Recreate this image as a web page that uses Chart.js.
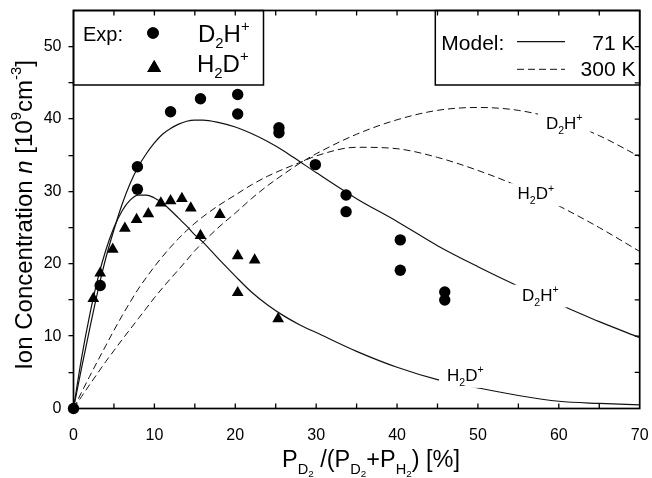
<!DOCTYPE html>
<html>
<head>
<meta charset="utf-8">
<script src="https://cdn.jsdelivr.net/npm/chart.js@4.4.1/dist/chart.umd.min.js"></script>
<style>
  html, body { margin: 0; padding: 0; background: #fff; }
  canvas { display: block; }
</style>
</head>
<body>
<canvas id="chart" width="652" height="478"></canvas>
<script>
// Measured ion densities, n in 10^9 cm^-3 versus D2 fraction in %
const expD2H_x = [0, 3.3, 7.9, 7.9, 12.0, 15.7, 20.3, 20.3, 25.4, 25.4, 29.9, 33.7, 33.7, 40.4, 40.4, 45.9, 45.9];
const expD2H_y = [0, 17.0, 33.4, 30.3, 41.0, 42.8, 43.4, 40.7, 38.8, 38.1, 33.7, 29.5, 27.2, 23.3, 19.1, 16.1, 15.0];
const expH2D_x = [2.45, 3.3, 4.85, 6.35, 7.8, 9.25, 10.8, 12.0, 13.4, 14.5, 15.7, 18.1, 20.3, 22.4, 20.3, 25.3];
const expH2D_y = [15.2, 18.7, 22.0, 24.9, 26.1, 26.9, 28.4, 28.7, 29.0, 27.7, 23.9, 26.8, 21.1, 20.5, 16.0, 12.4];

// Model curves at 71 K and 300 K
const modelX       = [0, 1, 2, 3, 4, 5, 6, 7, 8, 9, 10, 11, 12, 13, 14, 15, 16, 18, 20, 22, 24, 26, 28, 30, 35, 40, 45, 50, 55, 60, 65, 70];
const modelD2H_71  = [0, 5.6, 11.0, 16.2, 20.8, 24.7, 28.2, 31.1, 33.4, 35.2, 36.7, 37.9, 38.7, 39.3, 39.7, 39.85, 39.85, 39.5, 38.9, 38.0, 36.9, 35.6, 34.1, 32.6, 29.0, 25.85, 22.5, 19.6, 16.9, 14.4, 12.0, 9.8];
const modelH2D_71  = [0, 7.0, 12.9, 17.9, 21.9, 25.0, 27.3, 28.8, 29.5, 29.5, 29.1, 28.4, 27.4, 26.3, 25.2, 24.0, 23.0, 20.6, 18.3, 16.1, 14.3, 12.8, 11.55, 10.5, 7.9, 5.7, 4.0, 2.85, 1.8, 1.0, 0.7, 0.5];
const modelD2H_300 = [0, 1.65, 3.3, 4.9, 6.5, 8.0, 9.5, 10.95, 12.4, 13.85, 15.3, 16.65, 17.95, 19.2, 20.5, 21.8, 22.95, 25.1, 27.0, 29.0, 30.8, 32.4, 33.9, 35.2, 37.9, 39.9, 41.2, 41.6, 41.2, 39.9, 37.7, 34.8];
const modelH2D_300 = [0, 2.25, 4.45, 6.6, 8.7, 10.8, 12.8, 14.7, 16.5, 18.1, 19.6, 21.0, 22.3, 23.5, 24.6, 25.6, 26.5, 28.1, 29.5, 30.9, 32.1, 33.1, 34.0, 34.9, 36.1, 35.9, 34.7, 32.9, 30.7, 28.0, 25.0, 21.7];

// Axis tick labels (minor ticks every 5)
const xTickLabels = [0, 10, 20, 30, 40, 50, 60, 70];
const yTickLabels = [0, 10, 20, 30, 40, 50];

// Curve name tags, anchored in data units
const curveTagX = [60.67, 57.16, 57.72, 48.44];
const curveTagY = [39.5, 29.74, 15.73, 4.63];

const FONT = '"Liberation Sans", Arial, Helvetica, sans-serif';

function setFont(ctx, size, italic) {
  ctx.font = (italic ? 'italic ' : '') + size.toFixed(2) + 'px ' + FONT;
}
// parts: [text, relative size, vertical shift in em (+ down), italic]
function richWidth(ctx, parts, size) {
  let w = 0;
  for (const p of parts) { setFont(ctx, size * (p[1] || 1), p[3]); w += ctx.measureText(p[0]).width; }
  return w;
}
function drawRich(ctx, parts, x, y, size, align) {
  const w = richWidth(ctx, parts, size);
  let cx = align === 'center' ? x - w / 2 : align === 'right' ? x - w : x;
  ctx.textAlign = 'left';
  ctx.textBaseline = 'alphabetic';
  ctx.fillStyle = '#000';
  for (const p of parts) {
    setFont(ctx, size * (p[1] || 1), p[3]);
    ctx.fillText(p[0], cx, y + (p[2] || 0) * size);
    cx += ctx.measureText(p[0]).width;
  }
  return w;
}

const ION_D2H = [['D'], ['2', 0.62, 0.28], ['H'], ['+', 0.62, -0.45]];
const ION_H2D = [['H'], ['2', 0.62, 0.28], ['D'], ['+', 0.62, -0.45]];
const curveTags = [ION_D2H, ION_H2D, ION_D2H, ION_H2D];

const X_TITLE = [['P'], ['D', 0.62, 0.28], ['2', 0.42, 0.42], [' /('], ['P'], ['D', 0.62, 0.28], ['2', 0.42, 0.42],
                 ['+'], ['P'], ['H', 0.62, 0.28], ['2', 0.42, 0.42], [') [%]']];
const Y_TITLE = [['Ion Concentration '], ['n', 1, 0, true], [' [10'], ['9', 0.62, -0.45], ['cm'], ['-3', 0.62, -0.45], [']']];

const pts = (xs, ys) => xs.map((x, i) => ({ x, y: ys[i] }));
const range = (a, b, s) => { const r = []; for (let v = a; v <= b + 1e-9; v += s) r.push(v); return r; };

function modelLine(label, ys, dashed) {
  return {
    label,
    data: pts(modelX, ys),
    showLine: true,
    pointRadius: 0,
    borderColor: '#111',
    borderWidth: dashed ? 1 : 1.2,
    borderDash: dashed ? [7, 4] : [],
    cubicInterpolationMode: 'monotone',
    fill: false,
    clip: false
  };
}

// keep the plot rectangle fixed: no extra room for label overhang
function fixBox(prop, value) {
  return s => {
    s[prop] = value;
    s.paddingLeft = 0; s.paddingRight = 0; s.paddingTop = 0; s.paddingBottom = 0;
  };
}

// Boxes, frame, inward ticks and legend keys
const decorations = {
  id: 'decorations',
  beforeDatasetsDraw(chart) {
    const { ctx, chartArea: a, scales: { x, y } } = chart;
    ctx.save();

    // key boxes
    ctx.lineWidth = 1.5;
    ctx.strokeStyle = '#000';
    ctx.fillStyle = '#fff';
    const boxH = 74.5;
    ctx.fillRect(a.left, a.top, 190, boxH);
    ctx.strokeRect(a.left, a.top, 190, boxH);
    ctx.fillRect(a.right - 204.4, a.top, 204.4, boxH);
    ctx.strokeRect(a.right - 204.4, a.top, 204.4, boxH);

    // frame
    ctx.lineWidth = 1.7;
    ctx.strokeRect(a.left, a.top, a.right - a.left, a.bottom - a.top);

    // inward ticks: bottom, top, right
    ctx.lineWidth = 1.3;
    ctx.beginPath();
    for (const v of range(5, 65, 5)) {
      const px = x.getPixelForValue(v);
      ctx.moveTo(px, a.bottom); ctx.lineTo(px, a.bottom - 5);
      ctx.moveTo(px, a.top); ctx.lineTo(px, a.top + 5);
    }
    for (const v of range(5, 50, 5)) {
      const py = y.getPixelForValue(v);
      ctx.moveTo(a.right, py); ctx.lineTo(a.right - 5, py);
    }
    ctx.stroke();

    // experimental key
    setFont(ctx, 20);
    ctx.fillStyle = '#000';
    ctx.textAlign = 'left';
    ctx.textBaseline = 'alphabetic';
    ctx.fillText('Exp:', a.left + 9.5, a.top + 30);
    Chart.helpers.drawPoint(ctx, { pointStyle: 'circle', radius: 5.8, borderWidth: 0 }, a.left + 79.5, a.top + 22.5);
    ctx.fill();
    drawRich(ctx, ION_D2H, a.left + 124.5, a.top + 31.2, 24, 'left');
    ctx.fillStyle = '#000';
    Chart.helpers.drawPoint(ctx, { pointStyle: 'triangle', radius: 8, borderWidth: 0 }, a.left + 80.7, a.top + 57.5);
    ctx.fill();
    drawRich(ctx, ION_H2D, a.left + 123.5, a.top + 61.2, 24, 'left');

    // model key
    drawRich(ctx, [['Model:']], a.right - 198.4, a.top + 39.5, 21, 'left');
    drawRich(ctx, [['71 K']], a.right - 4.2, a.top + 39.5, 21, 'right');
    drawRich(ctx, [['300 K']], a.right - 4.2, a.top + 65.5, 21, 'right');
    ctx.strokeStyle = '#111';
    ctx.lineWidth = 1.2;
    ctx.beginPath();
    ctx.moveTo(a.right - 122.7, a.top + 31.2); ctx.lineTo(a.right - 74.7, a.top + 31.2);
    ctx.stroke();
    ctx.lineWidth = 1;
    ctx.setLineDash([7, 4]);
    ctx.beginPath();
    ctx.moveTo(a.right - 122.7, a.top + 58.8); ctx.lineTo(a.right - 74.7, a.top + 58.8);
    ctx.stroke();
    ctx.setLineDash([]);

    ctx.restore();
  },
  afterDatasetsDraw(chart) {
    const { ctx, scales: { x, y } } = chart;
    ctx.save();
    const size = 17;
    curveTags.forEach((parts, i) => {
      const px = x.getPixelForValue(curveTagX[i]);
      const py = y.getPixelForValue(curveTagY[i]);
      const base = py + 0.358 * size;
      const w = richWidth(ctx, parts, size);
      ctx.fillStyle = '#fff';
      ctx.fillRect(px - w / 2 - 8, base - 0.95 * size, w + 16, 1.35 * size);
      drawRich(ctx, parts, px, base, size, 'center');
    });
    ctx.restore();
  },
  afterDraw(chart) {
    const { ctx } = chart;
    ctx.save();
    drawRich(ctx, X_TITLE, 371, 467, 23.5, 'center');
    ctx.translate(32, 215);
    ctx.rotate(-Math.PI / 2);
    drawRich(ctx, Y_TITLE, 0, 0, 24, 'center');
    ctx.restore();
  }
};

new Chart(document.getElementById('chart'), {
  type: 'scatter',
  data: {
    datasets: [
      {
        label: 'D2H+ exp',
        data: pts(expD2H_x, expD2H_y),
        pointStyle: 'circle',
        pointRadius: 5.7,
        pointBorderWidth: 0,
        backgroundColor: '#000',
        borderColor: '#000',
        clip: false
      },
      {
        label: 'H2D+ exp',
        data: pts(expH2D_x, expH2D_y),
        pointStyle: 'triangle',
        pointRadius: 6.8,
        pointBorderWidth: 0,
        backgroundColor: '#000',
        borderColor: '#000',
        clip: false
      },
      modelLine('D2H+ 71 K', modelD2H_71, false),
      modelLine('H2D+ 71 K', modelH2D_71, false),
      modelLine('D2H+ 300 K', modelD2H_300, true),
      modelLine('H2D+ 300 K', modelH2D_300, true)
    ]
  },
  options: {
    responsive: false,
    animation: false,
    events: [],
    layout: { padding: { top: 10.5, right: 12.3, left: 0, bottom: 0 } },
    plugins: { legend: { display: false }, tooltip: { enabled: false } },
    scales: {
      x: {
        type: 'linear',
        min: 0,
        max: 70,
        afterBuildTicks: s => { s.ticks = range(0, 70, 5).map(v => ({ value: v })); },
        afterFit: fixBox('height', 69.5),
        grid: { display: false, drawTicks: false },
        border: { display: false },
        ticks: {
          autoSkip: false,
          maxRotation: 0,
          padding: 17.4,
          color: '#000',
          font: { family: FONT, size: 16 },
          callback: v => (xTickLabels.includes(v) ? String(v) : '')
        }
      },
      y: {
        type: 'linear',
        min: 0,
        max: 55,
        afterBuildTicks: s => { s.ticks = range(0, 50, 5).map(v => ({ value: v })); },
        afterFit: fixBox('width', 73.5),
        grid: { drawOnChartArea: false, drawTicks: true, tickLength: 5, color: '#000', lineWidth: 1.3 },
        border: { display: false },
        ticks: {
          autoSkip: false,
          padding: 7,
          color: '#000',
          font: { family: FONT, size: 16 },
          callback: v => (yTickLabels.includes(v) ? String(v) : '')
        }
      }
    }
  },
  plugins: [decorations]
});
</script>
</body>
</html>
